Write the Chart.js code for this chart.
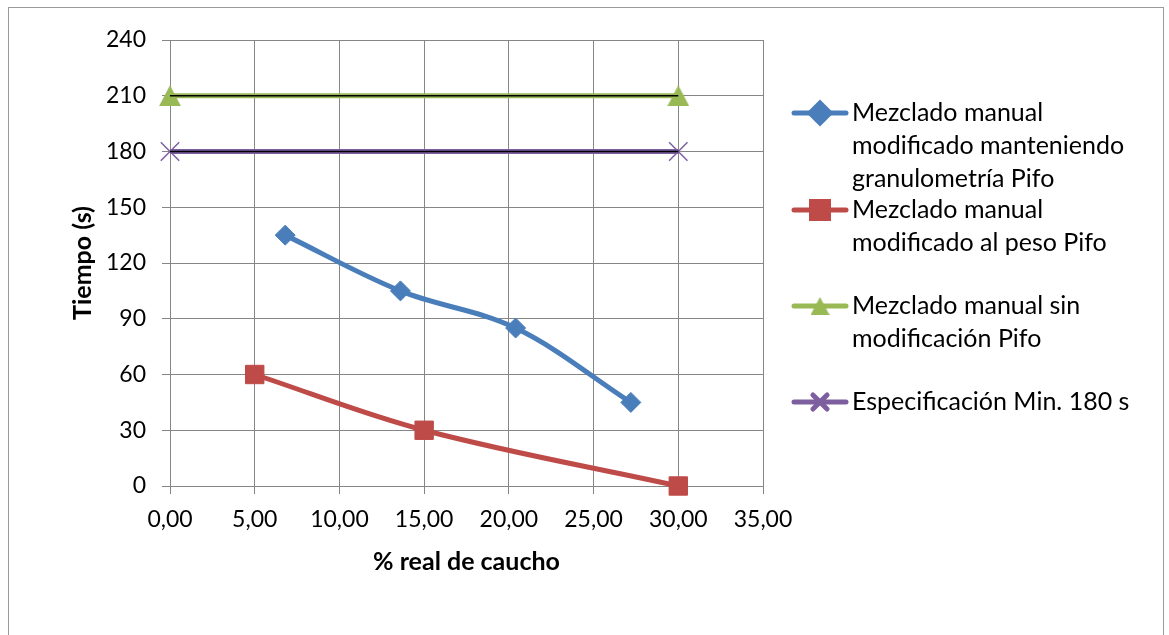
<!DOCTYPE html>
<html><head><meta charset="utf-8">
<script src="https://cdn.jsdelivr.net/npm/chart.js@4/dist/chart.umd.min.js"></script>
<style>html,body{margin:0;padding:0;background:#fff;}#wrap{position:relative;width:1169px;height:635px;}</style>
</head><body><div id="wrap"><canvas id="c" width="1169" height="635"></canvas></div>
<script>
const seriesNames = [
  ["Mezclado manual", "modificado manteniendo", "granulometría Pifo"],
  ["Mezclado manual", "modificado al peso Pifo"],
  ["Mezclado manual sin", "modificación Pifo"],
  ["Especificación Min. 180 s"]
];
const blueX = [6.8, 13.6, 20.4, 27.2];
const blueY = [135, 105, 85, 45];
const redX = [5, 15, 30];
const redY = [60, 30, 0];
const greenX = [0, 30];
const greenY = [210, 210];
const purpleX = [0, 30];
const purpleY = [180, 180];
const xTitle = "% real de caucho";
const yTitle = "Tiempo (s)";

const FONT = "Lato, 'Open Sans', sans-serif";
const pts = (xs, ys) => xs.map((x, i) => ({x, y: ys[i]}));

const colors = ['#4a7ebb', '#be4b48', '#98b954', '#7d5fa0'];

function makeTriangle(w, h, color) {
  const cv = document.createElement('canvas');
  cv.width = w; cv.height = h;
  const c = cv.getContext('2d');
  c.fillStyle = color;
  c.beginPath();
  c.moveTo(w / 2, 0); c.lineTo(w, h); c.lineTo(0, h); c.closePath();
  c.fill();
  return cv;
}
const triPlot = makeTriangle(22, 21, colors[2]);
const triLegend = makeTriangle(19, 18, colors[2]);

const styles = ['rectRot', 'rect', triPlot, 'crossRot'];
const radii = [10, 13, 12, 13];

const legendPlugin = {
  id: 'customLegend',
  afterDraw(chart) {
    const ctx = chart.ctx;
    ctx.save();
    ctx.strokeStyle = '#9a9a9a';
    ctx.lineWidth = 1;
    ctx.strokeRect(8.5, 7.5, 1155, 640);
    const ys = [113, 210, 306, 402];
    const lineH = 33;
    const legStyles = ['rectRot', 'rect', triLegend, 'crossRot'];
    const legR = [10, 12, 10, 10];
    for (let i = 0; i < 4; i++) {
      const y = ys[i];
      ctx.strokeStyle = colors[i];
      ctx.lineWidth = 5;
      ctx.lineCap = 'round';
      ctx.beginPath(); ctx.moveTo(794, y); ctx.lineTo(846, y); ctx.stroke();
      ctx.fillStyle = colors[i];
      ctx.strokeStyle = colors[i];
      Chart.helpers.drawPoint(ctx, {pointStyle: legStyles[i], radius: legR[i], borderWidth: i === 3 ? 1.5 : 1, rotation: 0}, 820, y);
      ctx.fillStyle = '#000';
      ctx.font = "25px " + FONT;
      ctx.textBaseline = 'middle';
      ctx.textAlign = 'left';
      seriesNames[i].forEach((t, k) => ctx.fillText(t, 852, y + k * lineH));
    }
    ctx.restore();
  }
};

const majorGrid = '#868686';
const minorGrid = '#c3c3c3';

new Chart(document.getElementById('c'), {
  type: 'scatter',
  data: {
    datasets: [
      {label: 'k1', data: pts(greenX, greenY), showLine: true, borderColor: '#000', borderWidth: 1.6, pointRadius: 0, order: 0, clip: false},
      {label: 'k2', data: pts(purpleX, purpleY), showLine: true, borderColor: '#000', borderWidth: 1.6, pointRadius: 0, order: 0, clip: false},
      {label: seriesNames[0].join(' '), data: pts(blueX, blueY), showLine: true, borderColor: colors[0], backgroundColor: colors[0], borderWidth: 5, tension: 0.35, pointStyle: styles[0], pointRadius: radii[0], pointBorderWidth: 1, order: 1, clip: false},
      {label: seriesNames[1].join(' '), data: pts(redX, redY), showLine: true, borderColor: colors[1], backgroundColor: colors[1], borderWidth: 5, tension: 0.35, pointStyle: styles[1], pointRadius: radii[1], pointBorderWidth: 1, order: 1, clip: false},
      {label: seriesNames[2].join(' '), data: pts(greenX, greenY), showLine: true, borderColor: colors[2], backgroundColor: colors[2], borderWidth: 5, pointStyle: styles[2], pointRadius: radii[2], pointBorderWidth: 1, order: 2, clip: false},
      {label: seriesNames[3].join(' '), data: pts(purpleX, purpleY), showLine: true, borderColor: colors[3], backgroundColor: colors[3], borderWidth: 5, pointStyle: styles[3], pointRadius: radii[3], pointBorderWidth: 1.5, order: 2, clip: false}
    ]
  },
  options: {
    responsive: false,
    animation: false,
    events: [],
    layout: {padding: {left: 9, top: 40, right: 406, bottom: 0}},
    plugins: {legend: {display: false}, tooltip: {enabled: false}},
    scales: {
      x: {
        type: 'linear', min: 0, max: 35,
        afterFit(s) { s.height = 149; },
        ticks: {stepSize: 5, color: '#000', padding: 12, font: {family: FONT, size: 23},
          callback: v => v.toFixed(2).replace('.', ',')},
        grid: {color: majorGrid, lineWidth: 1, tickLength: 8, tickColor: majorGrid},
        border: {color: majorGrid, width: 1},
        title: {display: true, text: xTitle, color: '#000', font: {family: FONT, size: 25, weight: 'bold'}, padding: {top: 0, bottom: 58}}
      },
      y: {
        type: 'linear', min: 0, max: 240,
        afterFit(s) { s.width = 161; },
        ticks: {stepSize: 15, color: '#000', padding: 16, font: {family: FONT, size: 23},
          callback: v => (v % 30 === 0 ? String(v) : '')},
        grid: {
          color: c => (c.tick && c.tick.value % 30 === 0 ? majorGrid : minorGrid),
          tickColor: c => (c.tick && c.tick.value % 30 === 0 ? majorGrid : 'rgba(0,0,0,0)'),
          lineWidth: 1, tickLength: 8
        },
        border: {color: majorGrid, width: 1},
        title: {display: true, text: yTitle, color: '#000', font: {family: FONT, size: 25, weight: 'bold'}, padding: {top: 59, bottom: 0}}
      }
    }
  },
  plugins: [legendPlugin]
});
</script></body></html>
